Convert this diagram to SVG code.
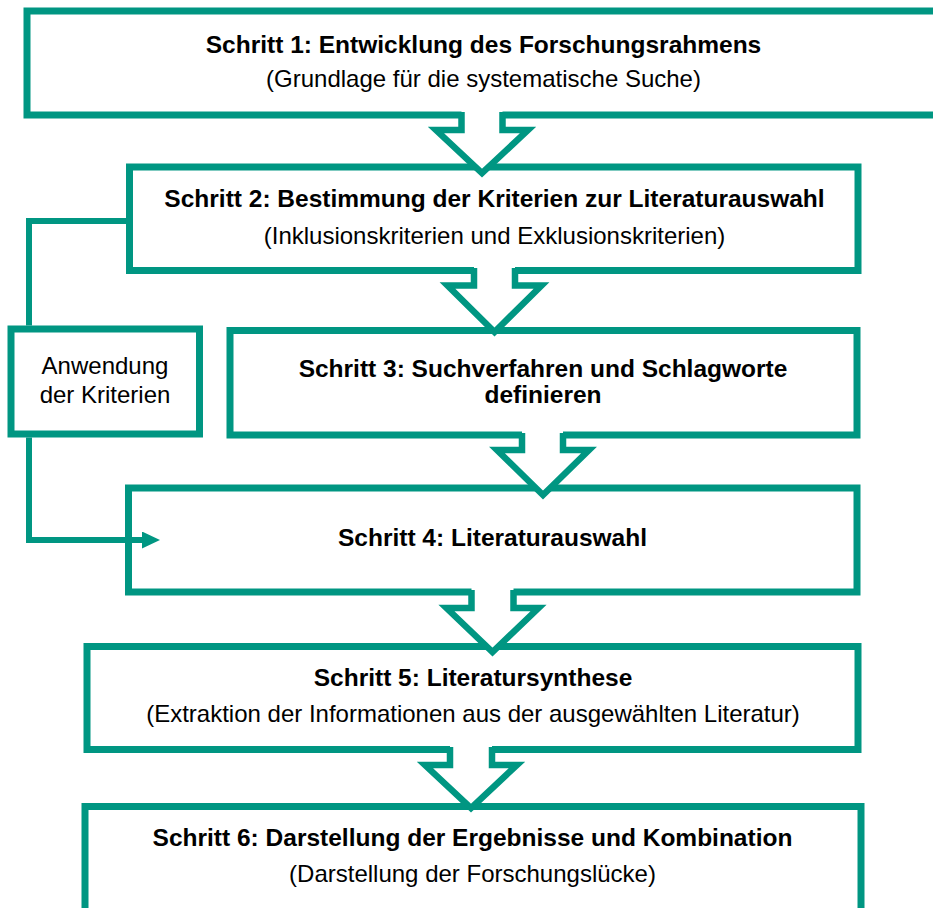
<svg xmlns="http://www.w3.org/2000/svg" width="933" height="908" viewBox="0 0 933 908">
<defs>
<style>
.box{fill:#ffffff;stroke:#009682;stroke-width:7}
.arr-fill{fill:#ffffff;stroke:none}
.arr{fill:none;stroke:#009682;stroke-width:6.5;stroke-linejoin:miter}
.line{fill:none;stroke:#009682;stroke-width:6}
.t{font-family:"Liberation Sans",Arial,sans-serif;font-size:24px;fill:#000000;text-anchor:middle}
.b{font-weight:bold;font-size:24.5px}
</style>
<marker id="ah" markerWidth="18" markerHeight="17" refX="0" refY="8.5" orient="auto" markerUnits="userSpaceOnUse">
<polygon points="0,0 18,8.5 0,17" fill="#009682"/>
</marker>
</defs>
<g id="step1">
<rect class="box" x="27" y="11" width="920" height="104"/>
<text class="t b" x="483.5" y="53">Schritt 1: Entwicklung des Forschungsrahmens</text>
<text class="t" x="483.5" y="87">(Grundlage für die systematische Suche)</text>
</g>
<g id="step2">
<rect class="box" x="129.5" y="167" width="728.5" height="103.5"/>
<text class="t b" x="494.5" y="207">Schritt 2: Bestimmung der Kriterien zur Literaturauswahl</text>
<text class="t" x="494.5" y="244">(Inklusionskriterien und Exklusionskriterien)</text>
</g>
<g id="apply">
<rect class="box" x="11" y="329" width="188.5" height="105"/>
<text class="t" x="105" y="374">Anwendung</text>
<text class="t" x="105" y="403">der Kriterien</text>
</g>
<g id="step3">
<rect class="box" x="230" y="330.5" width="627" height="104.5"/>
<text class="t b" x="543" y="377">Schritt 3: Suchverfahren und Schlagworte</text>
<text class="t b" x="543" y="403">definieren</text>
</g>
<g id="step4">
<rect class="box" x="128.5" y="488" width="728.5" height="104"/>
<text class="t b" x="492.5" y="546">Schritt 4: Literaturauswahl</text>
</g>
<g id="step5">
<rect class="box" x="87" y="646.5" width="771" height="103"/>
<text class="t b" x="473" y="686">Schritt 5: Literatursynthese</text>
<text class="t" x="473" y="722">(Extraktion der Informationen aus der ausgewählten Literatur)</text>
</g>
<g id="step6">
<rect class="box" x="85" y="806.5" width="776" height="120"/>
<text class="t b" x="472.5" y="846">Schritt 6: Darstellung der Ergebnisse und Kombination</text>
<text class="t" x="472.5" y="882">(Darstellung der Forschungslücke)</text>
</g>
<g id="arrows">
<g id="arrow1">
<polygon class="arr-fill" points="461.5,110 461.5,130 436,130 482,173 528,130 502.5,130 502.5,110"/>
<polyline class="arr" points="461.5,112 461.5,130 436,130 482,173 528,130 502.5,130 502.5,112"/>
</g>
<g id="arrow2">
<polygon class="arr-fill" points="474,266 474,285.5 447.5,285.5 494.5,332 541.5,285.5 515,285.5 515,266"/>
<polyline class="arr" points="474,268 474,285.5 447.5,285.5 494.5,332 541.5,285.5 515,285.5 515,268"/>
</g>
<g id="arrow3">
<polygon class="arr-fill" points="522,431 522,450 497,450 543,495 589,450 563,450 563,431"/>
<polyline class="arr" points="522,433 522,450 497,450 543,495 589,450 563,450 563,433"/>
</g>
<g id="arrow4">
<polygon class="arr-fill" points="471.5,588 471.5,608 446.5,608 492.5,652 538.5,608 513.5,608 513.5,588"/>
<polyline class="arr" points="471.5,590 471.5,608 446.5,608 492.5,652 538.5,608 513.5,608 513.5,590"/>
</g>
<g id="arrow5">
<polygon class="arr-fill" points="450,745 450,765 425,765 471,808 517,765 492,765 492,745"/>
<polyline class="arr" points="450,747 450,765 425,765 471,808 517,765 492,765 492,747"/>
</g>
</g>
<g id="connectors">
<polyline class="line" points="126,221 29,221 29,325.5"/>
<polyline class="line" points="29,437.5 29,540 142,540" marker-end="url(#ah)"/>
</g>
</svg>
